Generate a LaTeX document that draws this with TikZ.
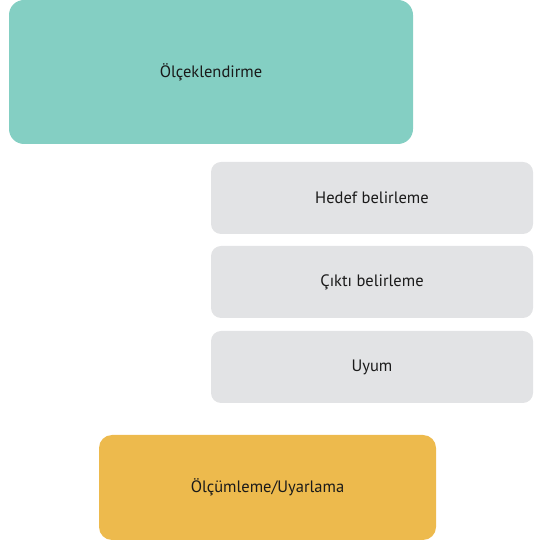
\documentclass[tikz,border=0pt]{standalone}
\usepackage{fontspec}
\setmainfont{PT Sans}
\definecolor{tealbox}{HTML}{84CFC3}
\definecolor{greybox}{HTML}{E2E3E5}
\definecolor{goldbox}{HTML}{EDBA4D}
\definecolor{labeltext}{HTML}{1A1A1A}
\begin{document}
\begin{tikzpicture}[x=1pt,y=1pt,
  card/.style={inner sep=0pt, text=labeltext, font=\fontsize{16.5}{19}\selectfont},
  greycard/.style={card, fill=greybox, rounded corners=10pt, minimum width=322pt, minimum height=72pt}]
\useasboundingbox (0,0) rectangle (533,545);
% top scaling block
\node[card, fill=tealbox, rounded corners=15pt, minimum width=404pt, minimum height=144pt]
  (scale) at (211,473) {Ölçeklendirme};
% middle stack of steps
\node[greycard] (goal) at (372,347) {Hedef belirleme};
\node[greycard] (output) at (372,263) {Çıktı belirleme};
\node[greycard] (fit) at (372,178) {Uyum};
% bottom block
\node[card, fill=goldbox, rounded corners=13pt, minimum width=337pt, minimum height=105pt]
  (measure) at (267.5,57.5) {Ölçümleme/Uyarlama};
\end{tikzpicture}
\end{document}
